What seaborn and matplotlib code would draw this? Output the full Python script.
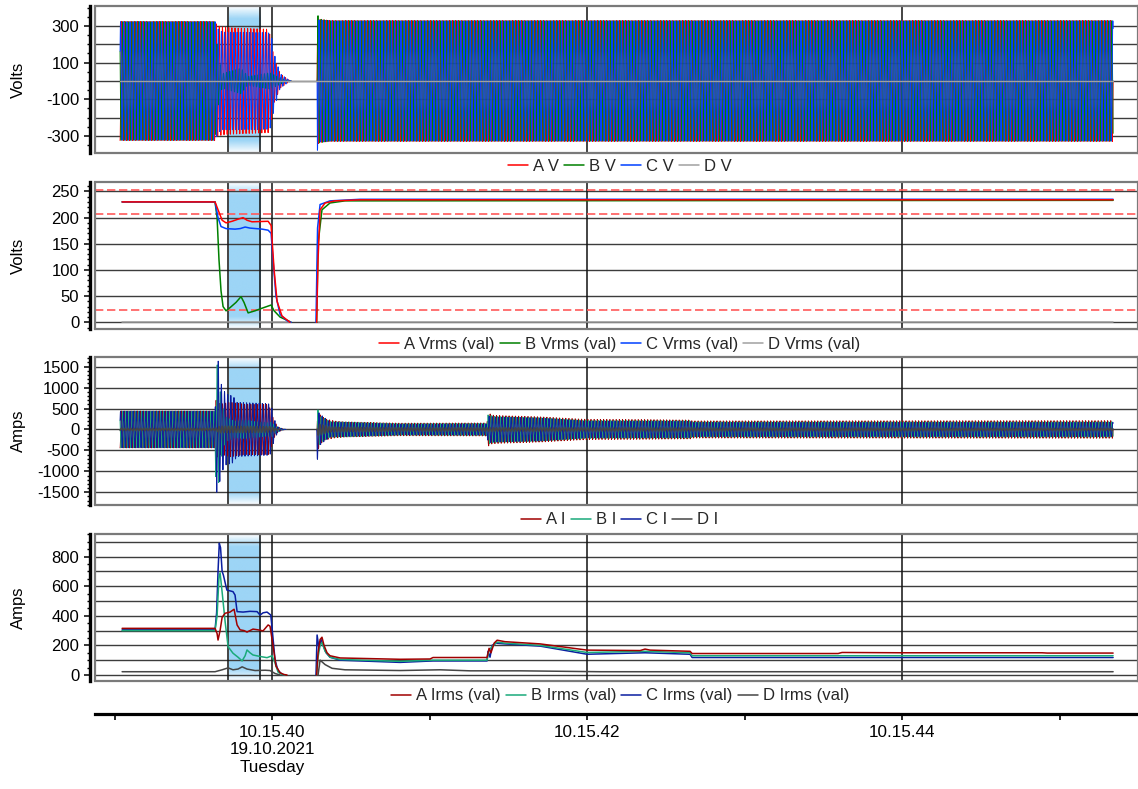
import numpy as np
import pandas as pd
import matplotlib
matplotlib.use("Agg")
import matplotlib.pyplot as plt
import matplotlib.colors as mcolors
from matplotlib.lines import Line2D
from matplotlib.ticker import MultipleLocator
import seaborn as sns

sns.set_theme(style="white")
plt.rcParams["font.family"] = ["Liberation Sans", "DejaVu Sans"]
plt.rcParams["axes.unicode_minus"] = False

NAN = np.nan

# Time is in seconds after 10:15:00 on 19.10.2021
T_LEFT, T_RIGHT = 38.876, 45.498
CURSORS = [39.721, 39.924]
SHADE_SPAN = (39.725, 39.922)
MAJOR_GRID_T = [40, 42, 44]
TIME_TICKS = [39, 40, 41, 42, 43, 44, 45]
TIME_LABELS = ["", "10.15.40\n19.10.2021\nTuesday", "", "10.15.42", "", "10.15.44", ""]
MAINS_HZ = 50.0
PHASE_DEG = {"A": 0.0, "B": -120.0, "C": 120.0, "D": 30.0}

# ---------------- Panel 1: phase voltage waveforms, peak envelope (V) ----------------
v_wave_t = {
    "A": [39.035, 39.638, 39.651, 39.702, 39.797, 39.975, 39.987, 40.013, 40.051, 40.102, 40.121, NAN,
          40.286, 40.288, 40.305, 40.368, 45.340],
    "B": [39.035, 39.638, 39.657, 39.683, 39.803, 39.848, 39.987, 40.025, 40.083, 40.121, NAN,
          40.286, 40.288, 40.298, 40.368, 45.340],
    "C": [39.035, 39.638, 39.657, 39.683, 39.975, 39.994, 40.013, 40.051, 40.102, 40.121, NAN,
          40.286, 40.288, 40.298, 40.368, 45.340],
}
v_wave_pk = {
    "A": [325, 325, 300, 292, 288, 282, 250, 120, 40, 8, 0, NAN, 0, 345, 335, 330, 330],
    "B": [325, 325, 150, 40, 70, 25, 45, 30, 5, 0, NAN, 0, 370, 340, 330, 330],
    "C": [325, 325, 285, 268, 265, 255, 150, 40, 8, 0, NAN, 0, 380, 335, 330, 330],
}
vd_t = [39.035, 45.340]
vd_v = [0, 0]

# ---------------- Panel 2: RMS voltages (V) ----------------
vrms_t = {
    "A": [39.048, 39.638, 39.657, 39.683, 39.708, 39.746, 39.784, 39.816, 39.841, 39.873, 39.975, 39.994,
          40.013, 40.032, 40.063, 40.114, NAN, 40.283, 40.292, 40.305, 40.337, 40.400, 40.559, 45.340],
    "B": [39.048, 39.638, 39.651, 39.663, 39.676, 39.689, 39.708, 39.733, 39.771, 39.803, 39.822, 39.848,
          39.892, 39.937, 39.975, 39.994, 40.013, 40.051, 40.102, 40.121, NAN,
          40.283, 40.292, 40.317, 40.368, 40.463, 45.340],
    "C": [39.048, 39.638, 39.657, 39.676, 39.708, 39.765, 39.797, 39.829, 39.860, 39.937, 39.975, 39.994,
          40.006, 40.025, 40.051, 40.095, 40.121, NAN, 40.279, 40.289, 40.305, 40.368, 40.559, 45.340],
    "D": [39.048, 40.114, NAN, 40.292, 45.340],
}
vrms_v = {
    "A": [230, 230, 215, 195, 190, 193, 197, 200, 195, 192, 193, 185,
          100, 40, 12, 0, NAN, 0, 120, 215, 228, 232, 234, 234],
    "B": [230, 230, 200, 120, 60, 30, 22, 28, 38, 49, 38, 18,
          22, 27, 31, 33, 22, 10, 3, 0, NAN,
          0, 150, 215, 228, 232, 233],
    "C": [230, 230, 200, 183, 179, 178, 179, 182, 180, 178, 176, 170,
          120, 50, 15, 3, 0, NAN, 0, 180, 225, 232, 235, 235],
    "D": [1, 1, NAN, 1, 1],
}
VRMS_LIMITS = [253, 207, 23]

# ---------------- Panel 3: phase current waveforms, peak envelope (A) ----------------
i_wave_t = {
    "A": [39.035, 39.638, 39.644, 39.670, 39.733, 39.829, 39.975, 39.987, 40.013, 40.038, 40.070, 40.089, NAN,
          40.286, 40.289, 40.305, 40.337, 40.400, 40.463, 40.813, 41.365, 41.371, 41.397, 41.448, 41.702,
          42.000, 42.368, 42.654, 42.667, 45.340],
    "B": [39.035, 39.638, 39.645, 39.655, 39.668, 39.683, 39.708, 39.765, 39.829, 39.975, 40.000, 40.025,
          40.063, 40.089, NAN, 40.286, 40.289, 40.305, 40.368, 40.813, 41.365, 41.371, 41.416, 41.702,
          42.000, 42.654, 42.667, 45.340],
    "C": [39.035, 39.638, 39.644, 39.650, 39.660, 39.668, 39.683, 39.708, 39.752, 39.778, 39.975, 39.994,
          40.013, 40.038, 40.070, 40.089, NAN, 40.283, 40.286, 40.298, 40.317, 40.368, 40.813, 41.365,
          41.371, 41.416, 41.702, 42.000, 42.654, 42.667, 45.340],
    "D": [39.035, 39.638, 39.670, 39.987, 40.051, NAN, 40.286, 40.292, 40.368, 40.813, 45.340],
}
i_wave_pk = {
    "A": [440, 440, 700, 600, 650, 600, 600, 500, 200, 60, 10, 0, NAN,
          0, 520, 350, 250, 200, 180, 150, 155, 400, 340, 330, 300,
          240, 235, 225, 205, 210],
    "B": [440, 440, 1550, 1550, 1000, 600, 300, 200, 220, 160, 180, 80,
          10, 0, NAN, 0, 500, 320, 190, 140, 145, 350, 310, 280,
          215, 210, 185, 185],
    "C": [440, 440, 1000, 1640, 1640, 1250, 1000, 850, 800, 650, 620, 580,
          250, 60, 10, 0, NAN, 0, 780, 400, 330, 180, 130, 135,
          320, 300, 275, 200, 195, 170, 170],
    "D": [30, 30, 80, 70, 0, NAN, 0, 140, 60, 45, 30],
}

# ---------------- Panel 4: RMS currents (A) ----------------
irms_t = {
    "A": [39.048, 39.638, 39.651, 39.657, 39.670, 39.683, 39.702, 39.733, 39.759, 39.778, 39.797, 39.822,
          39.841, 39.879, 39.911, 39.943, 39.975, 39.987, 40.006, 40.025, 40.051, 40.076, 40.095, NAN,
          40.283, 40.292, 40.305, 40.317, 40.330, 40.349, 40.368, 40.432, 40.813, 41.003, 41.022, 41.365,
          41.378, 41.390, 41.410, 41.429, 41.479, 41.702, 42.000, 42.337, 42.368, 42.400, 42.654, 42.667,
          43.594, 43.619, 44.000, 44.889, 44.921, 45.340],
    "B": [39.048, 39.638, 39.651, 39.663, 39.670, 39.683, 39.702, 39.721, 39.752, 39.784, 39.810, 39.829,
          39.841, 39.860, 39.879, 39.924, 39.968, 40.000, 40.019, 40.038, 40.063, 40.083, NAN,
          40.283, 40.292, 40.305, 40.317, 40.337, 40.368, 40.432, 40.813, 41.022, 41.365, 41.378, 41.410,
          41.429, 41.479, 41.702, 42.000, 42.368, 42.654, 42.667, 45.340],
    "C": [39.048, 39.638, 39.648, 39.657, 39.665, 39.673, 39.683, 39.691, 39.713, 39.752, 39.765, 39.778,
          39.816, 39.860, 39.905, 39.924, 39.943, 39.968, 39.992, 40.006, 40.019, 40.038, 40.063, 40.076,
          NAN, 40.279, 40.286, 40.298, 40.311, 40.324, 40.343, 40.368, 40.432, 40.813, 41.022, 41.365,
          41.371, 41.384, 41.397, 41.422, 41.479, 41.702, 42.000, 42.368, 42.654, 42.667, 45.340],
    "D": [39.048, 39.638, 39.683, 39.721, 39.752, 39.784, 39.810, 39.841, 39.892, 39.956, 39.987, 40.019,
          40.051, NAN, 40.292, 40.305, 40.337, 40.381, 40.463, 40.813, 41.067, 41.257, 41.575, 42.083, 45.340],
}
irms_v = {
    "A": [315, 315, 280, 236, 300, 390, 417, 425, 444, 338, 305, 300,
          290, 310, 305, 298, 338, 330, 200, 60, 15, 3, 0, NAN,
          0, 150, 240, 255, 200, 150, 130, 115, 106, 108, 118, 118,
          180, 150, 215, 235, 225, 210, 168, 165, 175, 168, 160, 145,
          145, 152, 150, 150, 148, 148],
    "B": [300, 300, 400, 660, 690, 560, 360, 191, 147, 120, 95, 130,
          169, 150, 135, 125, 117, 130, 80, 20, 3, 0, NAN,
          0, 120, 200, 220, 160, 120, 105, 92, 100, 100, 170, 205,
          222, 215, 200, 152, 160, 150, 130, 130],
    "C": [305, 305, 420, 700, 890, 860, 700, 675, 574, 563, 540, 428,
          425, 430, 428, 405, 420, 425, 405, 250, 100, 30, 5, 0,
          NAN, 0, 270, 180, 240, 200, 150, 120, 100, 85, 95, 95,
          160, 120, 200, 215, 210, 195, 140, 150, 140, 118, 118],
    "D": [22, 22, 35, 48, 35, 40, 55, 40, 30, 32, 30, 10,
          0, NAN, 0, 100, 70, 45, 35, 30, 35, 28, 28, 22, 22],
}

# ---------------- Colours ----------------
V_COLORS = {"A": "#ff0000", "B": "#008000", "C": "#0040ff", "D": "#a0a0a0"}
I_COLORS = {"A": "#a00000", "B": "#1aaa7a", "C": "#0a1ea0", "D": "#454545"}
PHASES = ["A", "B", "C"]


def split_segments(times, values):
    times = np.asarray(times, float)
    values = np.asarray(values, float)
    cuts = list(np.where(np.isnan(times))[0]) + [len(times)]
    segs, start = [], 0
    for stop in cuts:
        segs.append((times[start:stop], values[start:stop]))
        start = stop + 1
    return segs


def rms_frame(times, values, name):
    rows = []
    for k, (tt, vv) in enumerate(split_segments(times, values)):
        rows.append(pd.DataFrame({"t": tt, "v": vv, "phase": name, "seg": k}))
    return pd.concat(rows, ignore_index=True)


def wave_frame(times, peaks, name, fs=1000.0):
    rows = []
    for k, (tt, pk) in enumerate(split_segments(times, peaks)):
        ts = np.arange(tt[0], tt[-1], 1.0 / fs)
        env = np.interp(ts, tt, pk)
        vv = env * np.sin(2 * np.pi * MAINS_HZ * ts + np.deg2rad(PHASE_DEG[name]))
        rows.append(pd.DataFrame({"t": ts, "v": vv, "phase": name, "seg": k}))
    return pd.concat(rows, ignore_index=True)


def shade(ax, ylo, yhi):
    n = 300
    frac = np.linspace(0, 1, n)
    alpha = np.clip(np.minimum(frac, 1 - frac) / 0.085, 0, 1)
    rgba = np.zeros((n, 2, 4))
    rgba[..., :3] = mcolors.to_rgb("#9dd5f6")
    rgba[..., 3] = alpha[:, None]
    ax.imshow(rgba, extent=[SHADE_SPAN[0], SHADE_SPAN[1], ylo, yhi], aspect="auto",
              origin="lower", zorder=0.5, interpolation="bilinear")


def style_panel(ax, ylim, grid, major, minor, ylabel):
    ax.set_xlim(T_LEFT, T_RIGHT)
    ax.set_ylim(*ylim)
    ax.set_xticks([])
    ax.set_xlabel("")
    for g in grid:
        ax.axhline(g, color="#3c3c3c", lw=1.0, zorder=1)
    for t in CURSORS + MAJOR_GRID_T:
        ax.axvline(t, color="#111111", lw=1.1, zorder=1.1)
    ax.set_yticks(major)
    ax.yaxis.set_minor_locator(MultipleLocator(minor))
    ax.tick_params(axis="y", which="major", left=True, length=4.3, width=1.1, color="black",
                   labelsize=12, pad=3.5, labelcolor="black")
    ax.tick_params(axis="y", which="minor", left=True, length=2.2, width=1.0, color="black")
    for side in ["top", "right", "bottom"]:
        ax.spines[side].set_color("#7a7a7a")
        ax.spines[side].set_linewidth(1.6)
    ax.spines["left"].set_position(("outward", 3.5))
    ax.spines["left"].set_color("black")
    ax.spines["left"].set_linewidth(2.4)
    ax.axvline(T_LEFT, color="#7a7a7a", lw=1.6, zorder=4, clip_on=False)
    ax.set_ylabel(ylabel, fontsize=12, color="black")
    ax.yaxis.set_label_coords(-0.066, 0.5)
    ax.set_facecolor("white")


def draw(ax, df, colors, lw, order, zorder=2):
    sns.lineplot(data=df, x="t", y="v", hue="phase", units="seg", estimator=None, sort=False,
                 hue_order=order, palette={p: colors[p] for p in order}, lw=lw, legend=False,
                 errorbar=None, ax=ax, zorder=zorder)


def add_legend(fig, colors, labels, y):
    handles = [Line2D([], [], color=colors[p], lw=1.1) for p in ["A", "B", "C", "D"]]
    fig.legend(handles, labels, loc="center", bbox_to_anchor=(0.5448, y), ncol=4, frameon=False,
               fontsize=12, handlelength=1.2, handletextpad=0.3, columnspacing=0.3,
               borderpad=0, borderaxespad=0)


fig = plt.figure(figsize=(11.38, 7.89), dpi=100)
L, W = 0.0835, 0.9165
ax1 = fig.add_axes([L, 0.8061, W, 0.1863])
ax2 = fig.add_axes([L, 0.5830, W, 0.1863])
ax3 = fig.add_axes([L, 0.3600, W, 0.1872])
ax4 = fig.add_axes([L, 0.1373, W, 0.1856])

# Panel 1 - voltage waveforms
P1_YLIM = (-393, 409)
shade(ax1, *P1_YLIM)
v_waves = pd.concat([wave_frame(v_wave_t[p], v_wave_pk[p], p) for p in PHASES], ignore_index=True)
draw(ax1, v_waves, V_COLORS, 0.7, PHASES)
draw(ax1, rms_frame(vd_t, vd_v, "D"), V_COLORS, 1.0, ["D"], zorder=3)
style_panel(ax1, P1_YLIM, np.arange(-300, 301, 100), [-300, -100, 100, 300], 50, "Volts")

# Panel 2 - RMS voltages
P2_YLIM = (-12.8, 268)
shade(ax2, *P2_YLIM)
for lim in VRMS_LIMITS:
    ax2.axhline(lim, color="#ff5a5a", lw=1.2, ls=(0, (5, 2.2)), zorder=1.5)
vrms = pd.concat([rms_frame(vrms_t[p], vrms_v[p], p) for p in ["D"] + PHASES], ignore_index=True)
draw(ax2, vrms, V_COLORS, 1.1, ["D", "B", "C", "A"])
style_panel(ax2, P2_YLIM, np.arange(0, 251, 50), np.arange(0, 251, 50), 10, "Volts")

# Panel 3 - current waveforms
P3_YLIM = (-1803, 1724)
shade(ax3, *P3_YLIM)
i_waves = pd.concat([wave_frame(i_wave_t[p], i_wave_pk[p], p) for p in PHASES], ignore_index=True)
draw(ax3, i_waves, I_COLORS, 0.7, PHASES)
draw(ax3, wave_frame(i_wave_t["D"], i_wave_pk["D"], "D"), I_COLORS, 1.0, ["D"], zorder=3)
style_panel(ax3, P3_YLIM, np.arange(-1500, 1501, 500), np.arange(-1500, 1501, 500), 100, "Amps")

# Panel 4 - RMS currents
P4_YLIM = (-38.5, 951)
shade(ax4, *P4_YLIM)
irms = pd.concat([rms_frame(irms_t[p], irms_v[p], p) for p in ["D", "C", "B", "A"]], ignore_index=True)
draw(ax4, irms, I_COLORS, 1.1, ["D", "C", "B", "A"])
style_panel(ax4, P4_YLIM, np.arange(0, 901, 100), np.arange(0, 801, 200), 50, "Amps")

# Shared time axis
axt = fig.add_axes([L, 0.095, W, 0.02])
axt.set_xlim(T_LEFT, T_RIGHT)
axt.set_yticks([])
axt.patch.set_alpha(0)
for side in ["top", "right", "left"]:
    axt.spines[side].set_visible(False)
axt.spines["bottom"].set_color("black")
axt.spines["bottom"].set_linewidth(2.3)
axt.set_xticks(TIME_TICKS)
axt.set_xticklabels(TIME_LABELS, fontsize=12.3, color="black", linespacing=1.19)
axt.tick_params(axis="x", bottom=True, length=4.5, width=1.2, color="black", pad=3.5)

add_legend(fig, V_COLORS, ["A V", "B V", "C V", "D V"], 0.789)
add_legend(fig, V_COLORS, ["A Vrms (val)", "B Vrms (val)", "C Vrms (val)", "D Vrms (val)"], 0.564)
add_legend(fig, I_COLORS, ["A I", "B I", "C I", "D I"], 0.341)
add_legend(fig, I_COLORS, ["A Irms (val)", "B Irms (val)", "C Irms (val)", "D Irms (val)"], 0.118)

fig.savefig("out.png", dpi=100, facecolor="white")
